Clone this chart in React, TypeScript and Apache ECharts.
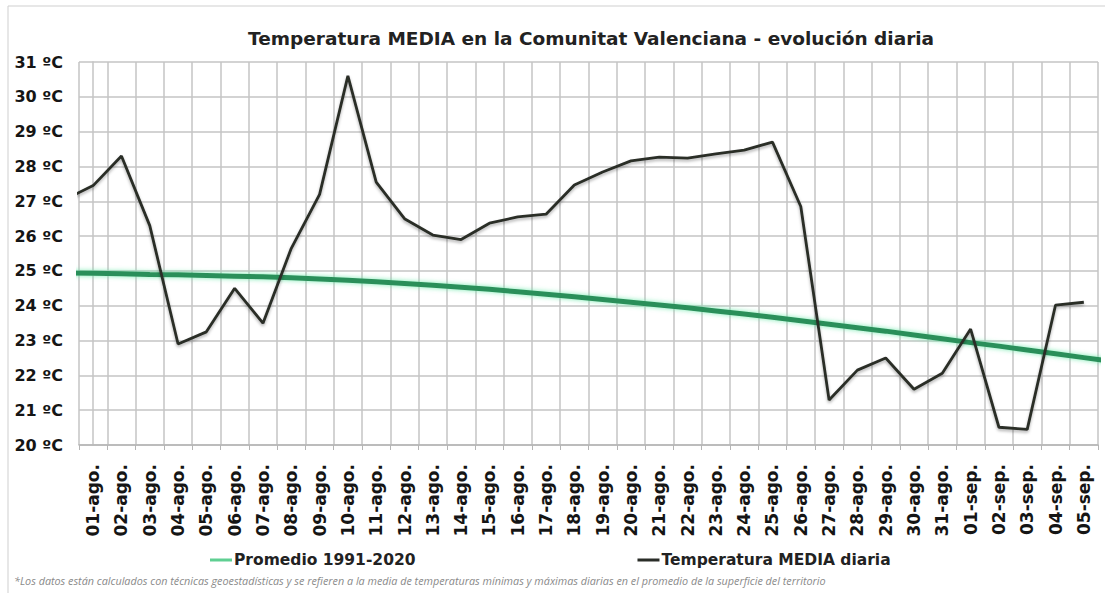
import React, { useEffect, useRef } from "react";
import * as echarts from "echarts";

const categories = [
  "01-ago.", "02-ago.", "03-ago.", "04-ago.", "05-ago.", "06-ago.", "07-ago.", "08-ago.", "09-ago.", "10-ago.",
  "11-ago.", "12-ago.", "13-ago.", "14-ago.", "15-ago.", "16-ago.", "17-ago.", "18-ago.", "19-ago.", "20-ago.",
  "21-ago.", "22-ago.", "23-ago.", "24-ago.", "25-ago.", "26-ago.", "27-ago.", "28-ago.", "29-ago.", "30-ago.",
  "31-ago.", "01-sep.", "02-sep.", "03-sep.", "04-sep.", "05-sep.",
];

// Temperatura MEDIA diaria (ºC), 01-ago .. 05-sep
const mediaDiaria = [
  27.45, 28.3, 26.3, 22.9, 23.25, 24.5, 23.5, 25.65, 27.2, 30.6,
  27.55, 26.5, 26.03, 25.9, 26.37, 26.55, 26.63, 27.47, 27.84, 28.16,
  28.27, 28.24, 28.36, 28.47, 28.7, 26.85, 21.29, 22.15, 22.5, 21.6,
  22.06, 23.33, 20.51, 20.45, 24.02, 24.1,
];
// value of the day before the visible range (31-jul), cut off at the plot edge
const mediaDiariaAnterior = [27.05];

// Promedio 1991-2020 (ºC), 01-ago .. 05-sep
const promedio = [
  24.93, 24.92, 24.9, 24.89, 24.87, 24.85, 24.83, 24.8, 24.77, 24.73,
  24.69, 24.64, 24.59, 24.53, 24.47, 24.4, 24.33, 24.26, 24.18, 24.1,
  24.02, 23.94, 23.85, 23.76, 23.67, 23.57, 23.47, 23.37, 23.27, 23.16,
  23.05, 22.94, 22.84, 22.73, 22.62, 22.51,
];
const promedioAnterior = [24.94]; // 31-jul
const promedioPosterior = [22.4]; // 06-sep

const yTicks = [20, 21, 22, 23, 24, 25, 26, 27, 28, 29, 30, 31];

const FONT = "DejaVu Sans, Verdana, sans-serif";

export default function App() {
  const ref = useRef<HTMLDivElement>(null);

  useEffect(() => {
    document.body.style.margin = "0";
    if (!ref.current) return;
    const chart = echarts.init(ref.current, null, { renderer: "svg" });

    const mediaData: [number, number][] = [];
    mediaDiariaAnterior.forEach((v, k) => mediaData.push([k - mediaDiariaAnterior.length, v]));
    mediaDiaria.forEach((v, i) => mediaData.push([i, v]));

    const promData: [number, number][] = [];
    promedioAnterior.forEach((v, k) => promData.push([k - promedioAnterior.length, v]));
    promedio.forEach((v, i) => promData.push([i, v]));
    promedioPosterior.forEach((v, k) => promData.push([promedio.length + k, v]));

    chart.setOption({
      animation: false,
      backgroundColor: "#ffffff",
      title: {
        text: "Temperatura MEDIA en la Comunitat Valenciana - evolución diaria",
        left: 243,
        top: 24,
        textStyle: { fontFamily: FONT, fontSize: 18.5, fontWeight: "bold", color: "#222" },
      },
      grid: { left: 79, top: 62, right: 7, bottom: 148, containLabel: false },
      legend: {
        left: 205,
        top: 547,
        itemWidth: 22,
        itemHeight: 3,
        itemGap: 222,
        icon: "rect",
        textStyle: { fontFamily: FONT, fontSize: 15.5, fontWeight: "bold", color: "#222", padding: [0, 0, 0, -3] },
        data: [
          { name: "Promedio 1991-2020", itemStyle: { color: "#5fcf92" } },
          { name: "Temperatura MEDIA diaria", itemStyle: { color: "#2a2d28" } },
        ],
      },
      xAxis: [
        {
          type: "category",
          data: categories,
          boundaryGap: true,
          axisLine: { show: true, lineStyle: { color: "#b5b5b5", width: 1.5 } },
          axisTick: { show: true, length: 5, lineStyle: { color: "#b5b5b5" } },
          splitLine: { show: true, lineStyle: { color: "#c4c4c4", width: 1.5 } },
          axisLabel: {
            rotate: 90,
            margin: 19,
            fontFamily: FONT,
            fontSize: 17,
            fontWeight: "bold",
            color: "#151515",
            interval: 0,
          },
        },
        {
          type: "value",
          min: -0.5,
          max: categories.length - 0.5,
          show: false,
          splitLine: { show: false },
        },
      ],
      yAxis: {
        type: "value",
        min: yTicks[0],
        max: yTicks[yTicks.length - 1],
        interval: 1,
        axisLine: { show: true, lineStyle: { color: "#c4c4c4", width: 1.5 } },
        axisTick: { show: false },
        splitLine: { show: true, lineStyle: { color: "#c4c4c4", width: 1.5 } },
        axisLabel: {
          margin: 16,
          fontFamily: FONT,
          fontSize: 16,
          fontWeight: "bold",
          color: "#151515",
          formatter: (v: number) => `${v} ºC`,
        },
      },
      series: [
        {
          name: "Promedio 1991-2020",
          type: "line",
          xAxisIndex: 1,
          data: promData,
          symbol: "none",
          clip: true,
          color: "#2f9460",
          lineStyle: {
            width: 5,
            color: "#2c8f5a",
            shadowColor: "rgba(90,230,160,0.8)",
            shadowBlur: 5,
          },
          z: 2,
        },
        {
          name: "Temperatura MEDIA diaria",
          type: "line",
          xAxisIndex: 1,
          data: mediaData,
          symbol: "none",
          clip: true,
          color: "#2a2d28",
          lineStyle: {
            width: 2.8,
            color: "#2a2d28",
            shadowColor: "rgba(0,0,0,0.3)",
            shadowBlur: 3,
            shadowOffsetY: 2,
          },
          z: 3,
        },
      ],
      graphic: [
        {
          type: "rect",
          shape: { x: 8, y: 6, width: 1200, height: 700 },
          style: { fill: "none", stroke: "#cfcfcf", lineWidth: 1 },
          silent: true,
          z: -1,
        },
        {
          type: "text",
          left: 14,
          top: 575,
          style: {
            text:
              "*Los datos están calculados con técnicas geoestadísticas y se refieren a la media de temperaturas mínimas y máximas diarias en el promedio de la superficie del territorio",
            fontFamily: "Open Sans, sans-serif",
            fontSize: 10.8,
            fontStyle: "italic",
            fill: "#8a8a8a",
          },
        },
      ],
    });

    return () => chart.dispose();
  }, []);

  return <div ref={ref} style={{ width: 1105, height: 593 }} />;
}
